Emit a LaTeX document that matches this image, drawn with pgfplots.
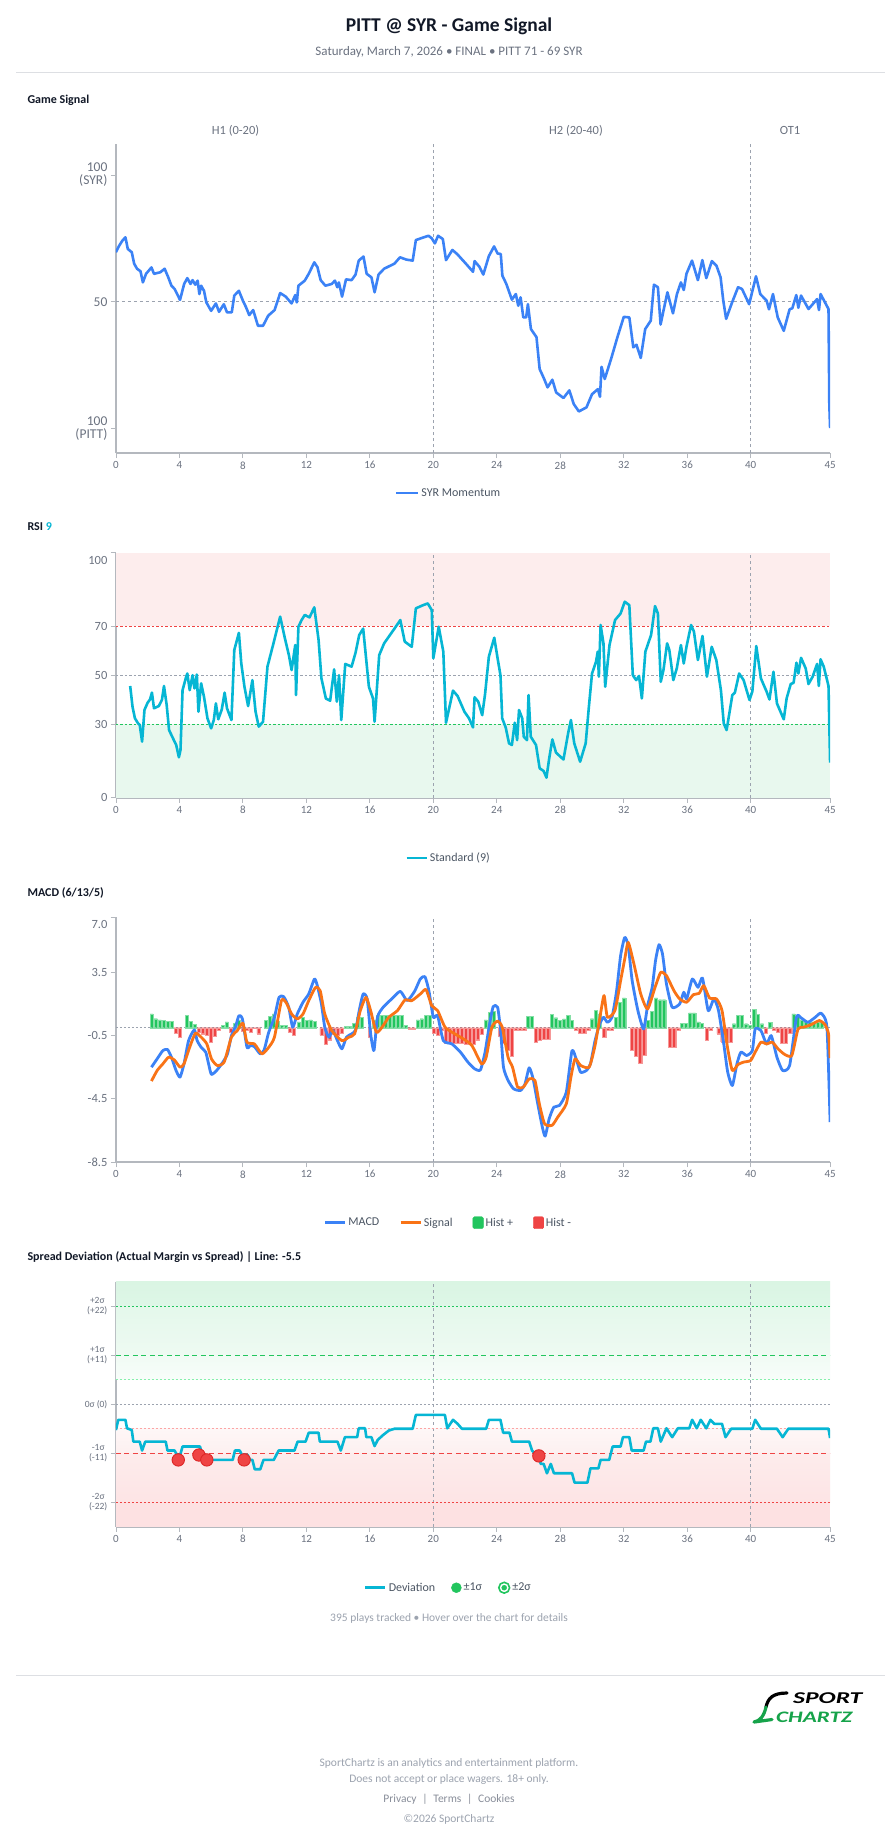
\documentclass[border=0pt]{standalone}
\usepackage{fontspec}
\setmainfont{Carlito}
\usepackage{pgfplots}
\pgfplotsset{compat=1.18}

\definecolor{sigblue}{HTML}{3B82F6}
\definecolor{rsicyan}{HTML}{06B6D4}
\definecolor{sigorange}{HTML}{F97316}
\definecolor{hgreen}{HTML}{22C55E}
\definecolor{hred}{HTML}{EF4444}
\definecolor{darkred}{HTML}{DC2626}
\definecolor{axgray}{HTML}{B4B8BE}
\definecolor{tickgray}{HTML}{6B7280}
\definecolor{refgray}{HTML}{9CA3AF}
\definecolor{rulegray}{HTML}{DDDFE3}
\definecolor{footgray}{HTML}{9CA3AF}
\definecolor{leggray}{HTML}{4B5563}
\definecolor{titleblack}{HTML}{111827}
\definecolor{redzone}{HTML}{FDEDED}
\definecolor{greenzone}{HTML}{E8F8EE}
\definecolor{lightgreenline}{HTML}{86EFAC}
\definecolor{lightredline}{HTML}{FCA5A5}
\definecolor{logogreen}{HTML}{16A34A}

\pgfplotsset{
  panel/.style={
    scale only axis, width=714.2pt,
    xmin=0, xmax=45,
    axis x line*=bottom, axis y line*=left,
    axis line style={draw=axgray, line width=1.6pt},
    xtick={0,4,8,12,16,20,24,28,32,36,40,45},
    tick align=outside, major tick length=5pt,
    tick style={draw=axgray, line width=0.8pt},
    x tick label style={font=\fontsize{11}{13}\selectfont, text=tickgray},
    y tick label style={font=\fontsize{12.5}{14}\selectfont, text=tickgray},
    /pgf/number format/assume math mode=true,
    legend cell align=left,
    legend style={draw=none, fill=none, anchor=center, legend columns=-1,
      font=\fontsize{12}{14}\selectfont, text=leggray,
      /tikz/every even column/.append style={column sep=14pt}},
  },
  refv/.style={refgray, dashed, line width=0.8pt, forget plot},
}

\begin{document}
\begin{tikzpicture}[x=1pt,y=1pt]
\fill[white] (0,0) rectangle (896,-1845);
\path[use as bounding box] (0,0) rectangle (896,-1845);

% ---------- header ----------
\node[font=\fontsize{19.5}{22}\selectfont\bfseries, text=titleblack] at (449,-26) {PITT @ SYR - Game Signal};
\node[font=\fontsize{13}{15}\selectfont, text=tickgray] at (449,-52) {Saturday, March 7, 2026 • FINAL • PITT 71 - 69 SYR};
\draw[rulegray, line width=1pt] (16,-72) -- (885,-72);

% ---------- Game Signal ----------
\node[anchor=west, font=\fontsize{12}{14}\selectfont\bfseries, text=titleblack] at (24,-100) {Game Signal};
\node[font=\fontsize{12.5}{14}\selectfont, text=tickgray] at (235.5,-130.7) {H1 (0-20)};
\node[font=\fontsize{12.5}{14}\selectfont, text=tickgray] at (576,-130.7) {H2 (20-40)};
\node[font=\fontsize{12.5}{14}\selectfont, text=tickgray] at (790,-130.7) {OT1};

\begin{axis}[panel, at={(115.9pt,-144pt)}, anchor=north west, height=309pt,
  ymin=-9.7, ymax=112.2, ytick={0,50,100},
  yticklabels={{100\\(PITT)},{50},{100\\(SYR)}},
  y tick label style={align=right, font=\fontsize{13.5}{13}\selectfont},
  legend style={at={(0.4657,-0.1294)}}]
\addplot[refv] coordinates {(20,-9.7)(20,112.2)};
\addplot[refv] coordinates {(40,-9.7)(40,112.2)};
\addplot[refgray, dashed, line width=0.8pt, forget plot] coordinates {(0,50)(45,50)};
\addplot[sigblue, line width=2.6pt, line join=round, forget plot] coordinates {
(0,69.5)(0.2,72)(0.4,74)(0.6,75.4)(0.75,70.8)(1.0,69.5)(1.15,65)(1.33,63)(1.55,62)(1.7,57.6)(1.9,61)(2.24,63.5)(2.4,61)(2.8,61.6)(3.07,63)(3.3,59.6)(3.5,56.3)(3.7,55)(4.04,50.7)(4.3,57)(4.5,59.3)(4.7,57)(4.83,58.5)(5.0,56.7)(5.15,58.3)(5.26,53)(5.37,56.3)(5.55,54.3)(5.7,49.7)(6.0,46.4)(6.3,49.3)(6.5,46)(6.8,49)(7.0,45.8)(7.3,45.8)(7.46,52.4)(7.75,54.3)(8.0,50.4)(8.2,47.8)(8.4,44.7)(8.65,46.7)(8.95,40.5)(9.27,40.5)(9.6,44.5)(10.0,46.7)(10.35,53.4)(10.7,52)(11.07,49.3)(11.3,52.6)(11.4,49.7)(11.5,56.3)(11.9,58.3)(12.15,61)(12.5,65.5)(12.7,63.6)(12.9,58.5)(13.2,56.3)(13.6,57)(13.8,58.3)(13.95,55.7)(14.05,57.6)(14.25,52)(14.5,58.8)(14.85,58.5)(15.1,60.7)(15.3,66.2)(15.6,67.8)(15.8,61)(16.1,59.6)(16.3,53.7)(16.55,60.7)(16.9,63)(17.55,65)(17.9,67.5)(18.3,66.6)(18.7,66.2)(18.9,74.3)(19.4,75.4)(19.7,76)(19.9,75)(20.1,73)(20.3,76)(20.6,74.7)(20.8,66.4)(21.2,70.4)(21.5,68.8)(22.05,65)(22.5,61.8)(22.6,66)(22.9,63.8)(23.15,60.7)(23.5,68)(23.83,71.8)(24.05,69)(24.25,68.8)(24.35,60.3)(24.6,57)(24.95,50.8)(25.2,53)(25.35,48.4)(25.5,51.7)(25.67,43.8)(25.85,43.8)(25.96,49)(26.15,39.2)(26.5,36)(26.7,23.4)(26.95,20)(27.2,16.2)(27.5,19.2)(27.74,14.2)(28.2,12)(28.57,15)(28.85,9.6)(29.17,6.7)(29.65,8.3)(30.0,13.5)(30.37,15.5)(30.5,12.5)(30.6,24.3)(30.8,19.5)(31.2,27.4)(31.6,36)(32.0,44)(32.35,43.8)(32.6,32)(32.8,33)(33.07,27.8)(33.35,39.2)(33.7,42.5)(33.9,56.7)(34.15,55.7)(34.32,41)(34.5,46.4)(34.75,53.7)(35.1,45.4)(35.35,53)(35.6,57.6)(35.78,54.6)(35.95,61)(36.3,66.2)(36.67,58.5)(36.95,66.4)(37.2,59.3)(37.55,66)(37.84,64.2)(38.1,59.6)(38.27,50.4)(38.45,43.2)(38.8,49.3)(39.2,55.7)(39.45,55)(39.9,49)(40.33,60)(40.6,53)(41.0,50.4)(41.15,47)(41.4,53)(41.7,43.8)(42.08,38.5)(42.45,47)(42.62,47.4)(42.87,52.6)(43.0,47.6)(43.17,52.4)(43.64,47.1)(44.18,51)(44.3,46.7)(44.4,53)(44.9,47.1)(44.95,9.6)(45,0.1)};
\addlegendimage{legend image code/.code={\draw[sigblue, line width=2.6pt] (0pt,0pt)--(22pt,0pt);}}
\addlegendentry{SYR Momentum}
\end{axis}

% ---------- RSI ----------
\node[anchor=west, font=\fontsize{12}{14}\selectfont\bfseries, text=titleblack] at (24,-527) {RSI \textcolor{rsicyan}{9}};
\begin{axis}[panel, at={(115.9pt,-552.7pt)}, anchor=north west, height=245pt,
  ymin=0, ymax=100, ytick={0,30,50,70},
  extra y ticks={100}, extra y tick style={y tick label style={yshift=-7.5pt}},
  legend style={at={(0.4657,-0.246)}}]
\addplot[fill=redzone, draw=none, forget plot] coordinates {(0,70)(45,70)(45,100)(0,100)} -- cycle;
\addplot[fill=greenzone, draw=none, forget plot] coordinates {(0,0)(45,0)(45,30)(0,30)} -- cycle;
\addplot[refv] coordinates {(20,0)(20,100)};
\addplot[refv] coordinates {(40,0)(40,100)};
\addplot[hred, line width=1.2pt, dash pattern=on 2.5pt off 2pt, forget plot] coordinates {(0,70)(45,70)};
\addplot[refgray, line width=1.2pt, dash pattern=on 2.5pt off 2pt, forget plot] coordinates {(0,50)(45,50)};
\addplot[hgreen, line width=1.2pt, dash pattern=on 2.5pt off 2pt, forget plot] coordinates {(0,30)(45,30)};
\addplot[rsicyan, line width=2.6pt, line join=round, forget plot] coordinates {
(0.9,45.6)(1.05,37)(1.2,32.4)(1.4,30.3)(1.5,29.7)(1.65,22.9)(1.8,35.8)(2.0,38.8)(2.15,40.1)(2.27,42.9)(2.4,36.5)(2.7,37.4)(2.9,39.9)(3.03,45.6)(3.2,37.8)(3.35,27.6)(3.6,24.2)(3.8,21.5)(3.97,16.5)(4.07,19.5)(4.2,43.9)(4.4,48.7)(4.5,50.7)(4.65,43.9)(4.83,50)(4.95,44.6)(5.1,50.3)(5.2,35.1)(5.37,46.7)(5.55,41.2)(5.77,32.4)(6.0,28.3)(6.17,31.7)(6.3,38.5)(6.45,32)(6.67,36)(6.85,42.9)(7.0,36.5)(7.28,31.7)(7.46,60.3)(7.75,67.3)(7.9,54.8)(8.1,45.3)(8.33,37.4)(8.6,48)(8.8,35.1)(9.0,29)(9.27,31)(9.55,53.5)(9.9,62.3)(10.35,73.9)(10.65,65)(10.9,58.2)(11.07,52.1)(11.3,62.3)(11.35,41.9)(11.5,69.8)(11.7,72.5)(11.9,74.6)(12.2,73.6)(12.5,77.7)(12.77,64.4)(12.95,48.7)(13.23,40.5)(13.5,39.6)(13.75,52.4)(13.92,39.2)(14.06,50)(14.2,31.7)(14.45,54.6)(14.85,53.5)(15.1,59.2)(15.33,66.4)(15.58,69)(15.94,45.3)(16.2,40.5)(16.3,31)(16.59,58.2)(16.9,63)(17.56,69.1)(17.92,72.5)(18.2,63.7)(18.64,61.6)(18.9,77.3)(19.36,78.6)(19.65,79.3)(19.9,76.6)(20.0,56.9)(20.34,69.8)(20.63,59.6)(20.8,30.6)(21.24,43.7)(21.53,41.5)(21.96,35.1)(22.25,32.4)(22.5,28.7)(22.6,41)(22.83,39.2)(23.08,33.7)(23.26,42.3)(23.5,57.6)(23.84,65.3)(24.05,56.9)(24.23,50)(24.34,32.4)(24.56,28.7)(24.77,22.2)(24.95,21.5)(25.13,30.6)(25.28,23.5)(25.4,35.8)(25.6,32.4)(25.7,24.9)(25.9,23.5)(26.0,41.9)(26.14,24.9)(26.47,21.5)(26.7,12)(26.95,10.9)(27.13,8.2)(27.3,16)(27.5,23.8)(27.73,18.4)(28.2,15.6)(28.5,26.5)(28.67,31.7)(28.88,22.2)(29.25,14.7)(29.6,22.2)(29.8,37)(30.0,50.7)(30.25,55.5)(30.36,59.6)(30.43,49.4)(30.54,70.5)(30.72,63)(30.83,45.3)(31.1,62.3)(31.45,72.5)(31.8,75.2)(32.06,80)(32.35,78.6)(32.57,50)(32.78,48)(32.96,49.7)(33.14,40.5)(33.36,59.6)(33.72,66.4)(33.97,78.2)(34.15,75.2)(34.33,47.3)(34.5,52.1)(34.73,63)(34.87,60.3)(35.12,48)(35.34,52.8)(35.6,62.3)(35.78,54.8)(35.95,61.6)(36.24,70.5)(36.42,67.8)(36.67,56.2)(36.96,66)(37.24,49.4)(37.54,61.6)(37.83,56.2)(38.12,43.9)(38.3,30.3)(38.48,27.6)(38.84,41.9)(39.0,42.9)(39.27,50.7)(39.55,48)(39.92,39.9)(40.1,43.3)(40.35,61.9)(40.64,48.7)(41.0,43.3)(41.18,40.1)(41.43,51.4)(41.65,38.5)(42.08,32)(42.26,40.5)(42.52,46.4)(42.7,46.9)(42.88,55.1)(43.0,50.7)(43.17,57.1)(43.46,52.8)(43.64,46.4)(43.9,49.4)(44.18,54.6)(44.29,45.6)(44.4,56.5)(44.6,53.5)(44.9,45.6)(45.0,14.3)};
\addlegendimage{legend image code/.code={\draw[rsicyan, line width=2.6pt] (0pt,0pt)--(20pt,0pt);}}
\addlegendentry{Standard (9)}
\end{axis}

% ---------- MACD ----------
\node[anchor=west, font=\fontsize{12}{14}\selectfont\bfseries, text=titleblack] at (24,-893) {MACD (6/13/5)};
\begin{axis}[panel, at={(115.9pt,-917pt)}, anchor=north west, height=245pt,
  ymin=-8.5, ymax=7, ytick={-8.5,-4.5,-0.5,3.5}, yticklabels={-8.5,-4.5,-0.5,3.5},
  extra y ticks={7}, extra y tick labels={7.0},
  extra y tick style={y tick label style={yshift=-7.5pt}},
  legend style={at={(0.4657,-0.2478)}, /tikz/every even column/.append style={column sep=18pt}}]
\addplot[refv] coordinates {(20,-8.5)(20,7)};
\addplot[refv] coordinates {(40,-8.5)(40,7)};
\addplot[refgray, line width=0.9pt, dash pattern=on 2pt off 2pt, forget plot] coordinates {(0,0)(45,0)};
\addplot[ybar, bar width=3.2pt, fill=hgreen, draw=hgreen!55, line width=0.3pt, forget plot] coordinates {
(2.25,0.88)(2.51,0.57)(2.76,0.50)(3.01,0.46)(3.26,0.42)(3.51,0.42)(4.46,0.78)(4.71,0.42)(4.96,0.21)(6.73,0.15)(6.98,0.36)(7.48,0.29)(7.74,0.50)(9.46,0.46)(9.71,0.72)(9.96,0.88)(10.21,0.42)(10.47,0.15)(10.72,0.15)(11.52,0.36)(11.77,0.67)(12.02,0.46)(12.27,0.50)(12.52,0.42)(14.48,0.08)(14.73,0.08)(14.98,0.29)(15.23,0.67)(15.49,0.67)(16.24,0.46)(16.49,0.78)(16.75,0.78)(17.0,0.78)(17.25,0.78)(17.5,0.78)(17.75,0.78)(18.01,0.78)(18.26,0.13)(19.02,0.50)(19.27,0.57)(19.52,0.78)(19.77,0.78)(23.3,0.50)(23.55,0.95)(23.8,1.05)(25.97,0.72)(26.22,0.72)(27.48,0.84)(27.73,0.63)(27.98,0.46)(28.24,0.55)(28.49,0.76)(28.74,0.46)(30.0,0.57)(30.25,1.09)(30.5,0.88)(31.51,0.67)(31.76,1.62)(32.02,1.89)(33.53,0.46)(33.78,1.05)(34.03,1.89)(34.29,1.77)(34.54,1.77)(35.67,0.29)(35.92,0.29)(36.18,0.93)(36.43,0.93)(36.68,0.36)(36.93,0.29)(38.95,0.25)(39.2,0.78)(39.45,0.78)(39.71,0.25)(39.96,0.15)(40.21,1.14)(40.46,0.84)(40.71,0.25)(41.22,0.34)(42.69,0.88)(42.94,0.72)(43.19,0.50)(43.44,0.36)(43.69,0.36)(43.95,0.36)(44.2,0.36)(44.45,0.36)};
\addplot[ybar, bar width=3.2pt, fill=hred, draw=hred!55, line width=0.3pt, forget plot] coordinates {
(3.77,-0.34)(4.02,-0.59)(5.22,-0.27)(5.47,-0.38)(5.72,-0.48)(5.97,-0.90)(6.22,-0.55)(6.48,-0.17)(7.23,-0.27)(7.99,-0.21)(8.24,-0.17)(8.49,-0.27)(8.74,-0.06)(8.99,-0.38)(10.97,-0.27)(11.22,-0.48)(12.95,-0.48)(13.22,-1.05)(13.47,-0.76)(13.72,-0.38)(13.97,-0.48)(14.23,-0.34)(15.99,-0.59)(18.51,-0.08)(18.76,-0.08)(20.02,-0.34)(20.28,-0.48)(20.53,-0.17)(20.78,-0.97)(21.03,-0.97)(21.28,-0.97)(21.54,-0.97)(21.79,-0.97)(22.04,-1.05)(22.29,-1.05)(22.54,-1.05)(22.8,-0.76)(23.05,-0.42)(24.2,-0.55)(24.46,-1.01)(24.71,-1.43)(24.96,-1.81)(25.21,-0.17)(25.46,-0.17)(25.72,-0.17)(26.47,-0.90)(26.72,-0.80)(26.98,-0.72)(27.23,-0.72)(28.99,-0.17)(29.24,-0.34)(29.5,-0.34)(29.75,-0.17)(30.76,-0.63)(31.01,-0.17)(31.26,-0.17)(32.52,-1.43)(32.77,-1.81)(33.03,-2.23)(33.28,-1.75)(34.92,-1.22)(35.17,-1.22)(35.42,-0.17)(37.23,-0.80)(37.48,-0.17)(37.96,-0.38)(38.21,-0.90)(38.46,-0.90)(38.72,-0.90)(40.96,-0.34)(41.47,-0.17)(41.72,-0.27)(41.97,-0.97)(42.22,-0.97)(42.48,-0.34)};
\addplot[sigblue, line width=2.8pt, smooth, tension=0.35, line join=round, forget plot] coordinates {
(2.24,-2.5)(2.6,-1.97)(2.96,-1.45)(3.25,-1.38)(3.5,-1.87)(3.79,-2.71)(4.04,-3.13)(4.29,-2.29)(4.58,-0.82)(4.94,-0.14)(5.12,-0.82)(5.37,-1.24)(5.66,-1.55)(5.84,-2.29)(6.02,-2.96)(6.38,-2.67)(6.74,-2.18)(7.03,-1.66)(7.28,-0.5)(7.54,0.07)(7.75,0.76)(7.97,0.55)(8.26,-1.24)(8.47,-1.13)(8.73,-1.2)(9.09,-1.66)(9.34,-1.41)(9.63,-0.29)(9.99,0.66)(10.28,1.92)(10.57,1.96)(10.89,1.29)(11.14,0.03)(11.43,0.87)(11.79,1.61)(12.15,2.13)(12.51,3.08)(12.69,2.66)(12.95,1.5)(13.16,0.03)(13.42,-0.6)(13.67,-0.18)(13.96,-0.82)(14.24,-1.34)(14.53,-0.6)(14.86,-0.39)(15.11,-0.14)(15.33,1.08)(15.58,2.13)(15.83,1.82)(16.05,-0.39)(16.26,-1.45)(16.48,0.66)(16.84,1.29)(17.38,1.82)(17.92,2.3)(18.35,1.71)(18.82,2.3)(19.18,3.08)(19.47,3.23)(19.72,2.34)(20.0,0.66)(20.27,0.76)(20.63,-0.82)(21.17,-1.03)(21.71,-1.55)(22.18,-2.18)(22.61,-2.61)(22.97,-2.67)(23.26,-1.55)(23.51,0.03)(23.77,1.33)(24.05,1.29)(24.24,-0.18)(24.42,-2.5)(24.71,-3.34)(25.06,-3.87)(25.5,-3.97)(25.78,-3.55)(26.04,-2.54)(26.29,-3.24)(26.58,-4.82)(26.87,-6.29)(27.05,-6.86)(27.3,-5.76)(27.59,-5.03)(27.95,-4.92)(28.38,-4.08)(28.74,-1.45)(29.03,-2.08)(29.28,-2.82)(29.64,-2.71)(29.9,-2.29)(30.19,-0.82)(30.47,0.19)(30.72,0.66)(30.97,0.34)(31.26,0.66)(31.55,2.34)(31.8,4.55)(32.06,5.71)(32.28,5.18)(32.53,2.97)(32.89,1.08)(33.25,-0.08)(33.5,1.39)(33.79,2.55)(34.0,4.24)(34.22,5.25)(34.44,4.66)(34.69,2.76)(35.05,1.29)(35.52,1.5)(35.78,2.24)(35.96,1.82)(36.32,3.08)(36.68,2.55)(36.96,3.14)(37.32,1.08)(37.68,1.82)(37.97,1.08)(38.3,-1.03)(38.55,-2.82)(38.84,-3.66)(39.13,-2.29)(39.38,-1.55)(39.74,-1.76)(40.1,-1.45)(40.28,-0.08)(40.64,-0.18)(41.0,-1.03)(41.29,-0.5)(41.65,-1.87)(42.01,-2.71)(42.45,-2.39)(42.88,0.66)(43.17,0.62)(43.6,0.34)(44.07,0.66)(44.43,0.91)(44.8,0.03)(45.0,-5.97)};
\addplot[sigorange, line width=2.8pt, smooth, tension=0.35, line join=round, forget plot] coordinates {
(2.24,-3.38)(2.6,-2.71)(2.96,-2.29)(3.32,-1.87)(3.68,-2.04)(4.04,-2.5)(4.29,-2.29)(4.65,-1.24)(5.01,-0.35)(5.37,-0.6)(5.73,-1.03)(6.02,-1.97)(6.38,-2.39)(6.82,-2.18)(7.28,-0.6)(7.65,-0.18)(8.0,0.28)(8.26,-0.92)(8.73,-1.03)(9.2,-1.66)(9.63,-1.24)(9.99,-0.6)(10.43,1.71)(10.71,1.61)(11.07,0.87)(11.43,0.55)(11.79,0.87)(12.15,1.71)(12.58,2.55)(12.87,2.34)(13.16,0.87)(13.6,-0.18)(14.24,-0.82)(14.68,-0.6)(15.04,-0.39)(15.4,1.08)(15.76,1.92)(16.05,1.08)(16.41,-0.29)(16.77,0.03)(17.2,0.66)(17.74,1.08)(18.21,1.75)(18.64,1.71)(19.18,2.13)(19.54,2.41)(19.9,1.39)(20.27,1.08)(20.74,0.03)(21.35,-0.39)(21.89,-0.71)(22.43,-1.13)(23.04,-2.29)(23.33,-1.87)(23.69,0.03)(24.05,0.41)(24.34,0.03)(24.71,-1.87)(24.99,-2.5)(25.31,-3.76)(25.67,-3.76)(26.04,-3.24)(26.4,-3.34)(26.68,-4.82)(27.01,-6.08)(27.48,-6.18)(27.84,-5.66)(28.38,-4.82)(28.67,-3.13)(28.93,-1.97)(29.28,-2.39)(29.82,-2.5)(30.19,-1.13)(30.55,0.97)(30.76,2.03)(30.97,0.66)(31.44,1.08)(31.8,2.97)(32.06,4.34)(32.28,5.39)(32.64,4.03)(33.07,2.13)(33.5,1.18)(33.97,2.55)(34.33,3.5)(34.69,3.29)(35.16,2.34)(35.52,1.82)(35.96,1.61)(36.39,2.09)(36.75,2.17)(37.04,2.66)(37.4,1.88)(37.84,1.82)(38.19,1.08)(38.55,-1.34)(38.84,-2.71)(39.2,-2.33)(39.55,-2.18)(39.99,-2.08)(40.28,-1.55)(40.64,-0.92)(41.0,-1.03)(41.36,-0.92)(41.72,-1.34)(42.15,-1.7)(42.59,-1.76)(42.98,-0.08)(43.34,0.03)(43.81,0.19)(44.32,0.45)(44.68,0.19)(44.9,-0.39)(45.0,-1.93)};
\addlegendimage{legend image code/.code={\draw[sigblue, line width=2.6pt] (0pt,0pt)--(20pt,0pt);}}
\addlegendentry{MACD}
\addlegendimage{legend image code/.code={\draw[sigorange, line width=2.6pt] (0pt,0pt)--(20pt,0pt);}}
\addlegendentry{Signal}
\addlegendimage{legend image code/.code={\fill[hgreen, rounded corners=1.5pt] (0pt,-6pt) rectangle (10.5pt,6pt);}}
\addlegendentry{Hist +}
\addlegendimage{legend image code/.code={\fill[hred, rounded corners=1.5pt] (0pt,-6pt) rectangle (10.5pt,6pt);}}
\addlegendentry{Hist -}
\end{axis}

% ---------- Spread Deviation ----------
\node[anchor=west, font=\fontsize{12}{14}\selectfont\bfseries, text=titleblack] at (24,-1257.3) {Spread Deviation (Actual Margin vs Spread) | Line: -5.5};
\begin{axis}[panel, at={(115.9pt,-1281.7pt)}, anchor=north west, height=245pt,
  ymin=-27.5, ymax=27.5, ytick={-22,-11,0,11,22},
  yticklabels={{-2σ\\(-22)},{-1σ\\(-11)},{0σ (0)},{+1σ\\(+11)},{+2σ\\(+22)}},
  y tick label style={align=center, font=\fontsize{9.5}{10}\selectfont},
  legend style={at={(0.4657,-0.249)}}]
\fill[top color={rgb,255:red,218;green,245;blue,227}, bottom color={rgb,255:red,222;green,246;blue,231}] (0,22) rectangle (45,27.5);
\fill[top color={rgb,255:red,228;green,248;blue,235}, bottom color={rgb,255:red,238;green,250;blue,242}] (0,11) rectangle (45,22);
\fill[top color={rgb,255:red,240;green,251;blue,244}, bottom color={rgb,255:red,248;green,253;blue,250}] (0,5.5) rectangle (45,11);
\fill[top color={rgb,255:red,254;green,247;blue,247}, bottom color={rgb,255:red,253;green,240;blue,240}] (0,-11) rectangle (45,-5.5);
\fill[top color={rgb,255:red,253;green,236;blue,236}, bottom color={rgb,255:red,253;green,228;blue,229}] (0,-22) rectangle (45,-11);
\fill[color={rgb,255:red,253;green,225;blue,226}] (0,-27.5) rectangle (45,-22);
\addplot[refv] coordinates {(20,-27.5)(20,27.5)};
\addplot[refv] coordinates {(40,-27.5)(40,27.5)};
\addplot[hgreen, line width=1.2pt, dash pattern=on 2pt off 2pt, forget plot] coordinates {(0,22)(45,22)};
\addplot[hgreen, line width=1.2pt, dash pattern=on 5pt off 3.5pt, forget plot] coordinates {(0,11)(45,11)};
\addplot[lightgreenline, line width=1.2pt, dash pattern=on 2pt off 2pt, forget plot] coordinates {(0,5.5)(45,5.5)};
\addplot[refgray, line width=1.3pt, dash pattern=on 2pt off 2pt, forget plot] coordinates {(0,0)(45,0)};
\addplot[lightredline, line width=1.2pt, dash pattern=on 2pt off 2pt, forget plot] coordinates {(0,-5.5)(45,-5.5)};
\addplot[hred, line width=1.2pt, dash pattern=on 5pt off 3.5pt, forget plot] coordinates {(0,-11)(45,-11)};
\addplot[hred, line width=1.2pt, dash pattern=on 2pt off 2pt, forget plot] coordinates {(0,-22)(45,-22)};
\addplot[rsicyan, line width=2.6pt, line join=round, forget plot] coordinates {
(0,-5.8)(0.15,-3.5)(0.6,-3.5)(0.7,-5.4)(1.0,-5.8)(1.1,-8.4)(1.5,-8.4)(1.65,-10.4)(1.85,-8.4)(3.14,-8.4)(3.25,-10.4)(3.7,-10.4)(3.85,-11.4)(4.05,-11.4)(4.2,-9.5)(5.3,-9.5)(5.5,-12.5)(7.36,-12.5)(7.5,-10.4)(7.8,-10.4)(7.95,-11.4)(8.3,-11.4)(8.45,-12.5)(8.6,-12.5)(8.75,-14.6)(9.1,-14.6)(9.3,-12.5)(9.95,-12.5)(10.25,-10.4)(11.25,-10.4)(11.45,-8.4)(11.95,-8.4)(12.15,-6.4)(12.77,-6.4)(12.85,-8.4)(13.96,-8.4)(14.17,-10.4)(14.43,-7.4)(15.2,-7.4)(15.3,-5.4)(15.7,-5.4)(15.78,-7.4)(16.1,-7.4)(16.3,-9.4)(16.5,-8)(16.84,-6.9)(17.2,-5.9)(17.56,-5.5)(18.7,-5.5)(18.9,-2.4)(20.73,-2.4)(20.88,-5.4)(21.24,-3.5)(21.53,-4.4)(21.8,-5.5)(23.33,-5.5)(23.5,-3.5)(24.23,-3.5)(24.4,-6.4)(24.8,-6.4)(24.95,-8.4)(26.04,-8.4)(26.22,-10.4)(26.5,-11.4)(26.7,-11.4)(26.76,-13.4)(26.95,-13.4)(27.16,-15.5)(27.4,-13.4)(27.6,-15.5)(28.74,-15.5)(28.9,-17.6)(29.71,-17.6)(29.9,-14.4)(30.4,-14.4)(30.54,-12.5)(31.08,-12.5)(31.3,-9.5)(31.8,-9.5)(31.95,-7.4)(32.35,-7.4)(32.5,-10.4)(33.25,-10.4)(33.4,-8.4)(33.68,-8.4)(33.86,-5.4)(34.15,-5.4)(34.33,-8.4)(34.69,-5.4)(35.05,-7.4)(35.41,-5.4)(36.13,-5.4)(36.31,-3.5)(36.6,-5.4)(36.85,-3.5)(37.2,-5.4)(37.46,-3.5)(37.7,-4.4)(38.19,-4.4)(38.41,-7.4)(38.77,-5.5)(40.1,-5.5)(40.28,-3.5)(40.64,-5.5)(41.65,-5.5)(42.01,-7.4)(42.37,-5.5)(44.9,-5.5)(45,-7.6)};
\addplot[only marks, mark=*, mark size=6.2pt, mark options={fill=hred, draw=darkred, line width=0.9pt}, forget plot] coordinates {(3.93,-12.5)(5.23,-11.4)(5.73,-12.5)(8.08,-12.5)(26.65,-11.6)};
\addlegendimage{legend image code/.code={\draw[rsicyan, line width=2.6pt] (0pt,0pt)--(20pt,0pt);}}
\addlegendentry{Deviation}
\addlegendimage{legend image code/.code={\fill[hgreen] (5pt,0pt) circle (5pt);}}
\addlegendentry{±1σ}
\addlegendimage{legend image code/.code={\draw[hgreen, line width=1.6pt, fill=white] (6pt,0pt) circle (5.4pt); \fill[hgreen] (6pt,0pt) circle (2.5pt);}}
\addlegendentry{±2σ}
\end{axis}
\node[font=\fontsize{11.5}{13}\selectfont, text=footgray] at (449,-1618.5) {395 plays tracked • Hover over the chart for details};

% ---------- footer ----------
\draw[rulegray, line width=1pt] (16,-1675) -- (885,-1675);
\draw[black, line width=3.2pt, line cap=round] (787,-1693) .. controls (773,-1693) and (768,-1698) .. (766,-1707);
\draw[logogreen, line width=3.2pt, line cap=round, line join=round] (766,-1707) .. controls (764,-1716) and (760,-1721) .. (754,-1722) -- (772,-1719.5);
\node[anchor=west, inner sep=0, font=\fontsize{16.5}{17}\selectfont\bfseries\itshape, text=black] at (793,-1698) {\scalebox{1.55}[1]{SPORT}};
\node[anchor=west, inner sep=0, font=\fontsize{16}{17}\selectfont\bfseries\itshape, text=logogreen] at (776,-1717) {\scalebox{1.45}[1]{CHARTZ}};
\node[font=\fontsize{11.5}{13}\selectfont, text=footgray] at (449,-1763) {SportChartz is an analytics and entertainment platform.};
\node[font=\fontsize{11.5}{13}\selectfont, text=footgray] at (449,-1779.5) {Does not accept or place wagers. 18+ only.};
\node[font=\fontsize{11.5}{13}\selectfont, text=tickgray!80] at (449,-1799.5) {Privacy\enspace|\enspace Terms\enspace|\enspace Cookies};
\node[font=\fontsize{11.5}{13}\selectfont, text=footgray] at (449,-1819.5) {©2026 SportChartz};
\end{tikzpicture}
\end{document}
